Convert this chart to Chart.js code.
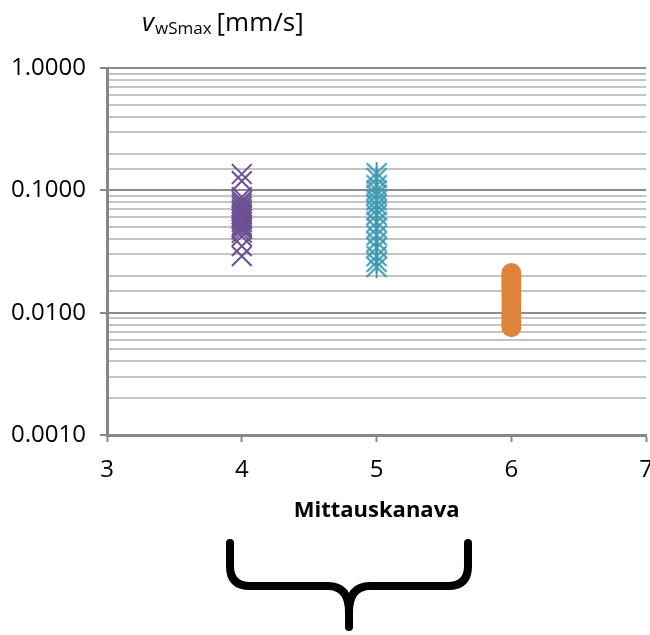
<!DOCTYPE html>
<html>
<head>
<meta charset="utf-8">
<script src="https://cdn.jsdelivr.net/npm/chart.js@4/dist/chart.umd.min.js"></script>
<style>
  body { margin: 0; background: #fff; overflow: hidden; }
  #wrap { position: relative; width: 650px; height: 635px; overflow: hidden; }
  #title {
    position: absolute; left: 142px; top: 3px;
    font-family: "Open Sans", sans-serif; font-size: 26px; color: #000; white-space: nowrap;
  }
  #title i { font-size: 26px; }
  #title sub { font-size: 17px; vertical-align: -3px; margin-left: 1px; margin-right: 5px; }
  #brace { position: absolute; left: 0; top: 0; }
</style>
</head>
<body>
<div id="wrap">
  <canvas id="chart" width="667" height="635"></canvas>
  <div id="title"><i>v</i><sub>wSmax</sub>[mm/s]</div>
  <svg id="brace" width="650" height="635">
    <path d="M230,543 L230,566 Q230,586 250,586 L328,586 Q349,586 349,612 L349,627 M349,612 Q349,586 370,586 L448,586 Q468,586 468,566 L468,543"
          fill="none" stroke="#000" stroke-width="8" stroke-linecap="round" stroke-linejoin="round"/>
  </svg>
</div>
<script>
const channels = [4, 5, 6];
const tickLabelsX = [3, 4, 5, 6, 7];
const tickLabelsY = ["0.0010", "0.0100", "0.1000", "1.0000"];

// mitatut arvot [mm/s] kanavittain
const ch4 = [0.136, 0.119, 0.088, 0.082, 0.078, 0.074, 0.070, 0.067, 0.064, 0.061, 0.058, 0.055, 0.052, 0.050, 0.048, 0.045, 0.042, 0.035, 0.029];
const ch5 = [0.138, 0.126, 0.110, 0.100, 0.092, 0.083, 0.076, 0.069, 0.063, 0.055, 0.049, 0.043, 0.038, 0.034, 0.029, 0.026, 0.0236];
const ch6 = [0.0211, 0.020, 0.019, 0.018, 0.017, 0.016, 0.015, 0.014, 0.013, 0.012, 0.011, 0.010, 0.0095, 0.009, 0.0085, 0.008, 0.0076];

const purple = "#6C5094";
const teal = "#3E99B3";
const orange = "#E0843A";
const axisGrey = "#878787";

function starMarker(color) {
  const c = document.createElement("canvas");
  c.width = 24; c.height = 24;
  const g = c.getContext("2d");
  g.strokeStyle = color;
  g.lineWidth = 2;
  g.beginPath();
  g.moveTo(2, 2); g.lineTo(22, 22);
  g.moveTo(22, 2); g.lineTo(2, 22);
  g.moveTo(12, 1); g.lineTo(12, 23);
  g.stroke();
  return c;
}

function isMajor(v) {
  const l = Math.log10(v);
  return Math.abs(l - Math.round(l)) < 1e-9;
}

const font = "'Open Sans', sans-serif";

new Chart(document.getElementById("chart"), {
  type: "scatter",
  data: {
    datasets: [
      {
        data: ch4.map(v => ({ x: channels[0], y: v })),
        pointStyle: "crossRot", pointRadius: 14, borderColor: purple, borderWidth: 2
      },
      {
        data: ch5.map(v => ({ x: channels[1], y: v })),
        pointStyle: starMarker(teal), pointRadius: 12
      },
      {
        data: ch6.map(v => ({ x: channels[2], y: v })),
        pointStyle: "circle", pointRadius: 10, backgroundColor: orange, borderColor: orange, borderWidth: 0
      }
    ]
  },
  options: {
    responsive: false,
    animation: false,
    layout: { padding: { top: 68, left: 0, right: 5, bottom: 100 } },
    plugins: { legend: { display: false }, tooltip: { enabled: false } },
    scales: {
      x: {
        type: "linear", min: tickLabelsX[0], max: tickLabelsX[tickLabelsX.length - 1],
        afterFit: s => { s.height = 100; },
        ticks: { stepSize: 1, padding: 14, color: "#000", font: { family: font, size: 24 } },
        grid: { drawOnChartArea: false, drawTicks: true, tickLength: 7, tickColor: axisGrey, tickWidth: 2 },
        border: { color: axisGrey, width: 3 },
        title: { display: true, text: "Mittauskanava", color: "#000", padding: { bottom: 11 },
                 font: { family: font, size: 22, weight: "bold" } }
      },
      y: {
        type: "logarithmic", min: 0.001, max: 1,
        afterFit: s => { s.width = 107; },
        ticks: {
          autoSkip: false, padding: 14, color: "#000", font: { family: font, size: 24 },
          callback: v => isMajor(v) ? tickLabelsY.find(t => Math.abs(parseFloat(t) - v) < 1e-9) || v.toFixed(4) : ""
        },
        grid: {
          color: c => isMajor(c.tick.value) ? "#8c8c8c" : "#c4c4c4",
          lineWidth: 2,
          tickLength: 7,
          tickColor: c => isMajor(c.tick.value) ? axisGrey : "rgba(0,0,0,0)",
          tickWidth: 2
        },
        border: { color: axisGrey, width: 3 }
      }
    }
  }
});
</script>
</body>
</html>
